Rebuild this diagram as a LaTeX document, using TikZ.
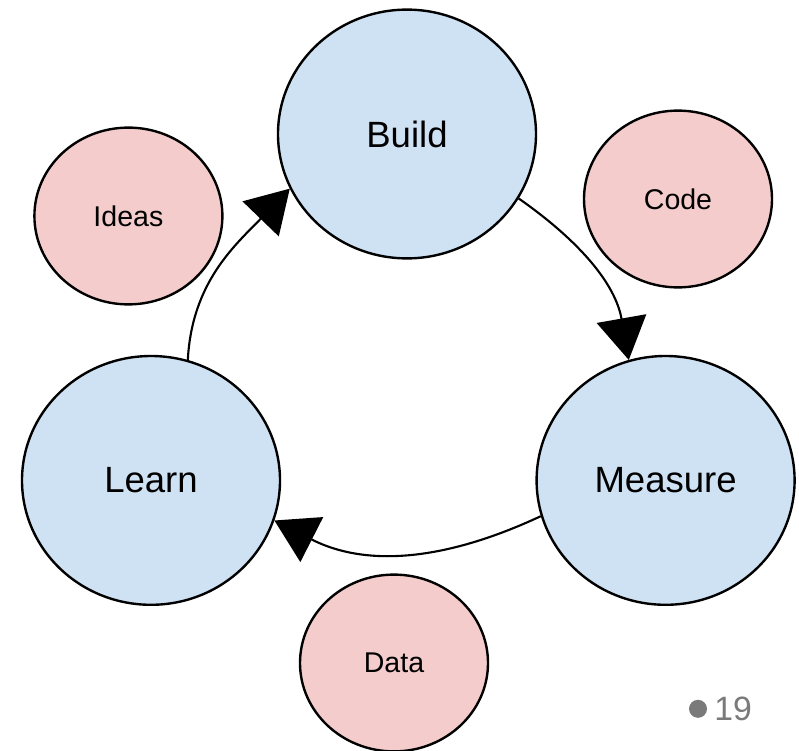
\documentclass[tikz,border=0pt]{standalone}
\usepackage{fontspec}
\setmainfont{Liberation Sans}
\usepackage{tikz}
\usetikzlibrary{shapes.geometric,arrows.meta,positioning}
\definecolor{stageblue}{HTML}{CFE2F3}
\definecolor{assetpink}{HTML}{F4CCCC}
\definecolor{pagegray}{HTML}{7A7A7A}
\pgfdeclareradialshading{slidebg}{\pgfpoint{0bp}{0bp}}{color(0bp)=(white); color(25bp)=(white); color(44bp)=(black!15); color(50bp)=(black!16)}
\tikzset{
  stage/.style={ellipse,draw,line width=1.7pt,fill=stageblue,inner sep=0pt,
    minimum width=6.45cm,minimum height=6.22cm,font=\fontsize{26}{30}\selectfont},
  asset/.style={ellipse,draw,line width=1.7pt,fill=assetpink,inner sep=0pt,
    minimum width=4.7cm,minimum height=4.42cm,font=\fontsize{20.3}{24}\selectfont},
  cycle/.style={line width=1.5pt,-{Triangle[length=1.05cm,width=1.25cm]}}
}

\begin{document}
\begin{tikzpicture}
    \useasboundingbox (0,0) rectangle (19.975,18.75);
    % slide background
    \begin{scope}
    \clip (0,0) rectangle (19.975,18.75);
    \shade[shading=slidebg] (3.75,15) circle (25);
    \end{scope}
    \node[stage] (build) at (10.175,15.4) {Build};
    \node[stage] (learn) at (3.775,6.74) {Learn};
    \node[stage] (measure) at (16.64,6.74) {Measure};
    \node[asset] (ideas) at (3.21,13.35) {Ideas};
    \node[asset] (code) at (16.95,13.775) {Code};
    \node[asset] (data) at (9.85,2.175) {Data};
    \draw[cycle] (build.-30) to[out=-35,in=100] (measure.107);
    \draw[cycle] (measure.196) to[out=-155,in=-27] (learn.-18);
    \draw[cycle] (learn.73) to[out=87,in=-134] (build.205);
    % page number
    \node[circle,fill=pagegray,inner sep=0pt,minimum size=0.45cm] (pagedot) at (17.45,1.03) {};
    \node[right=0.05cm of pagedot,text=pagegray,font=\fontsize{24}{28}\selectfont] (pagenum) {19};
\end{tikzpicture}
\end{document}
